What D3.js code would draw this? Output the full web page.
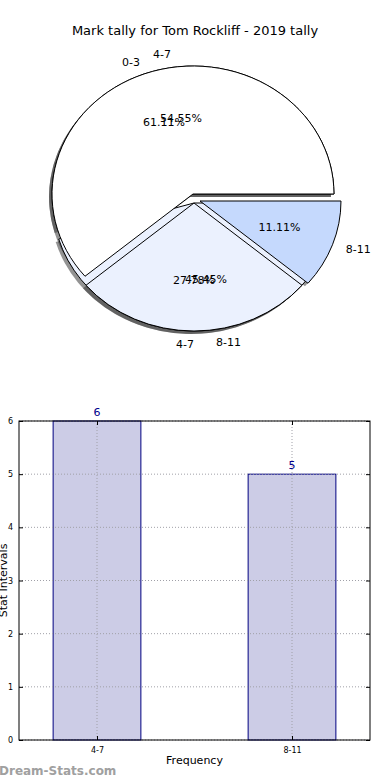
<!DOCTYPE html>
<html>
<head>
<meta charset="utf-8">
<script src="https://cdn.jsdelivr.net/npm/d3@7"></script>
<style>
  body { margin: 0; background: #fff; }
  svg { display: block; font-family: "DejaVu Sans", sans-serif; }
</style>
</head>
<body>
<svg id="viz"></svg>
<script>
  // pie data (two pies drawn on top of each other, like the original)
  const pieCats = ['0-3', '4-7', '8-11'];
  const pieValues = [11, 5, 2];
  const pie2Cats = ['4-7', '8-11'];
  const pie2Values = [6, 5];

  // bar data
  const barCats = ['4-7', '8-11'];
  const barValues = [6, 5];
  const yTicks = [0, 1, 2, 3, 4, 5, 6];

(function() {
  const W = 390, H = 780;
  const svg = d3.select('#viz').attr('width', W).attr('height', H);

  svg.append('text')
    .attr('x', 195).attr('y', 35)
    .attr('text-anchor', 'middle')
    .style('font-size', '13px')
    .text('Mark tally for Tom Rockliff - 2019 tally');

  // ---- pies ----
  const cx = 193, cy = 194, rx = 141, ry = 128;
  const sliceColors = ['#ffffff', '#ebf1fe', '#c5d9fd'];
  const pie = d3.pie().sort(null).startAngle(Math.PI / 2).endAngle(Math.PI / 2 - 2 * Math.PI);
  const arc = d3.arc().innerRadius(0).outerRadius(ry);

  function buildSlices(cats, values, offsets) {
    const total = d3.sum(values);
    return pie(values).map((p, i) => {
      const mid = Math.PI / 2 - (p.startAngle + p.endAngle) / 2; // math angle, ccw from east
      return { p, cat: cats[i], pct: values[i] / total * 100, mid, off: offsets[i], color: sliceColors[i] };
    });
  }

  const slices2 = buildSlices(pie2Cats, pie2Values, [[0, 0], [1, 9]]);
  const slices1 = buildSlices(pieCats, pieValues, [[0, 0], [1, 9], [7, 7]]);

  const pieG = svg.append('g');

  function wedge(g, s, dx, dy) {
    return g.append('path')
      .attr('transform', `translate(${cx + s.off[0] + dx},${cy + s.off[1] + dy}) scale(${rx / ry},1)`)
      .attr('d', arc(s.p))
      .attr('vector-effect', 'non-scaling-stroke');
  }

  // shadows under everything
  [...slices2, ...slices1].forEach(s => {
    wedge(pieG, s, -3, 3).attr('fill', '#3a3a3a').attr('fill-opacity', 0.55).attr('stroke', 'none');
  });
  [...slices2, ...slices1].forEach(s => {
    wedge(pieG, s, 0, 0).attr('fill', s.color).attr('stroke', '#000').attr('stroke-width', 1);
  });

  function labels(slices) {
    slices.forEach(s => {
      const c = Math.cos(s.mid), sn = Math.sin(s.mid);
      pieG.append('text')
        .attr('x', cx + s.off[0] + 1.1 * rx * c)
        .attr('y', cy + s.off[1] - 1.1 * ry * sn)
        .attr('dy', '0.35em')
        .attr('text-anchor', c > 0 ? 'start' : 'end')
        .style('font-size', '11px')
        .text(s.cat);
      pieG.append('text')
        .attr('x', cx + s.off[0] + 0.6 * rx * c)
        .attr('y', cy + s.off[1] - 0.6 * ry * sn)
        .attr('dy', '0.35em')
        .attr('text-anchor', 'middle')
        .style('font-size', '11px')
        .text(s.pct.toFixed(2) + '%');
    });
  }
  labels(slices2);
  labels(slices1);

  // ---- bar chart ----
  const pl = 19, pr = 370, pt = 421, pb = 740;
  const x = d3.scaleLinear().domain([-0.4, 1.4]).range([pl, pr]);
  const y = d3.scaleLinear().domain([0, 6]).range([pb, pt]);
  const barW = 0.45;
  const bar = svg.append('g');

  bar.selectAll('rect.bar').data(barValues).join('rect')
    .attr('class', 'bar')
    .attr('x', (d, i) => x(i - barW / 2))
    .attr('width', (d, i) => x(i + barW / 2) - x(i - barW / 2))
    .attr('y', d => y(d))
    .attr('height', d => y(0) - y(d))
    .attr('fill', '#ccccE6')
    .attr('stroke', '#000080').attr('stroke-width', 1);

  // dotted grid, drawn over the bars
  bar.selectAll('line.hg').data(yTicks).join('line')
    .attr('class', 'hg')
    .attr('x1', pl).attr('x2', pr)
    .attr('y1', d => y(d)).attr('y2', d => y(d))
    .attr('stroke', '#a0a0a8').attr('stroke-dasharray', '1,2');
  bar.selectAll('line.vg').data(barCats).join('line')
    .attr('class', 'vg')
    .attr('x1', (d, i) => x(i)).attr('x2', (d, i) => x(i))
    .attr('y1', pt).attr('y2', pb)
    .attr('stroke', '#a0a0a8').attr('stroke-dasharray', '1,2');

  bar.selectAll('text.val').data(barValues).join('text')
    .attr('class', 'val')
    .attr('x', (d, i) => x(i))
    .attr('y', d => y(d) - 5)
    .attr('text-anchor', 'middle')
    .attr('fill', '#00008b')
    .style('font-size', '11px')
    .text(d => d);

  // frame
  bar.append('rect')
    .attr('x', pl).attr('y', pt)
    .attr('width', pr - pl).attr('height', pb - pt)
    .attr('fill', 'none').attr('stroke', '#000').attr('stroke-width', 1);

  // axes with inward ticks
  const yAxis = bar.append('g').attr('transform', `translate(${pl},0)`)
    .call(d3.axisLeft(y).tickValues(yTicks).tickSize(-4).tickPadding(6).tickFormat(d3.format('d')));
  const yAxisR = bar.append('g').attr('transform', `translate(${pr},0)`)
    .call(d3.axisRight(y).tickValues(yTicks).tickSize(-4).tickFormat(''));
  const xAxis = bar.append('g').attr('transform', `translate(0,${pb})`)
    .call(d3.axisBottom(x).tickValues([0, 1]).tickSize(-4).tickPadding(7).tickFormat(i => barCats[i]));
  const xAxisT = bar.append('g').attr('transform', `translate(0,${pt})`)
    .call(d3.axisTop(x).tickValues([0, 1]).tickSize(-4).tickFormat(''));
  [yAxis, yAxisR, xAxis, xAxisT].forEach(a => {
    a.select('.domain').remove();
    a.selectAll('text').style('font-size', '8px').style('font-family', '"DejaVu Sans", sans-serif');
  });

  svg.append('text')
    .attr('x', (pl + pr) / 2).attr('y', 764)
    .attr('text-anchor', 'middle')
    .style('font-size', '11px')
    .text('Frequency');

  svg.append('text')
    .attr('transform', `translate(7,${(pt + pb) / 2}) rotate(-90)`)
    .attr('text-anchor', 'middle')
    .style('font-size', '11px')
    .text('Stat Intervals');

  svg.append('text')
    .attr('x', -1).attr('y', 775)
    .attr('fill', '#a0a0a0')
    .style('font-size', '12px')
    .style('font-weight', 'bold')
    .text('Dream-Stats.com');
})();
</script>
</body>
</html>
